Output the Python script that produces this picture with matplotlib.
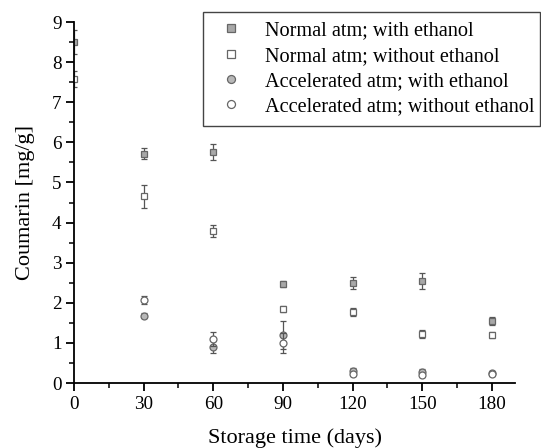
import matplotlib
matplotlib.use("Agg")
import matplotlib.pyplot as plt
from matplotlib.ticker import MultipleLocator

plt.rcParams['font.family'] = ['Liberation Serif', 'DejaVu Serif']

days = [0, 30, 60, 90, 120, 150, 180]
normal_with = [8.50, 5.72, 5.75, 2.47, 2.50, 2.55, 1.55]
normal_with_err = [0.30, 0.13, 0.20, 0.07, 0.15, 0.20, 0.10]
normal_without = [7.57, 4.65, 3.80, 1.85, 1.77, 1.22, 1.20]
normal_without_err = [0.20, 0.28, 0.15, 0.07, 0.10, 0.10, 0.07]
accel_with = [None, 1.68, 0.90, 1.20, 0.30, 0.28, 0.25]
accel_with_err = [None, 0.07, 0.15, 0.35, 0.07, 0.07, 0.05]
accel_without = [None, 2.07, 1.10, 1.00, 0.22, 0.20, 0.22]
accel_without_err = [None, 0.10, 0.18, 0.25, 0.05, 0.05, 0.05]

labels = ["Normal atm; with ethanol", "Normal atm; without ethanol",
          "Accelerated atm; with ethanol", "Accelerated atm; without ethanol"]

fig = plt.figure(figsize=(5.41, 4.48), dpi=100)
ax = fig.add_axes([74/541, 1-383/448, (515-74)/541, (383-22)/448])

def plot_series(y, e, marker, fc, label):
    xs = [d for d, v in zip(days, y) if v is not None]
    ys = [v for v in y if v is not None]
    es = [v for v in e if v is not None]
    ax.errorbar(xs, ys, yerr=es, fmt='none', ecolor='#555555', elinewidth=0.9,
                capsize=2.5, capthick=0.9, clip_on=True)
    ax.plot(xs, ys, linestyle='none', marker=marker, markersize=5, markerfacecolor=fc,
            markeredgecolor='#666666', markeredgewidth=0.9, label=label, clip_on=True)

plot_series(normal_with, normal_with_err, 's', '#a8a8a8', labels[0])
plot_series(normal_without, normal_without_err, 's', 'white', labels[1])
plot_series(accel_with, accel_with_err, 'o', '#b8b8b8', labels[2])
plot_series(accel_without, accel_without_err, 'o', 'white', labels[3])

ax.set_xlim(0, 190)
ax.set_ylim(0, 9)
ax.set_xticks([0, 30, 60, 90, 120, 150, 180])
ax.xaxis.set_minor_locator(MultipleLocator(15))
ax.yaxis.set_major_locator(MultipleLocator(1))
ax.yaxis.set_minor_locator(MultipleLocator(0.5))
for s in ['top', 'right']:
    ax.spines[s].set_visible(False)
for s in ['left', 'bottom']:
    ax.spines[s].set_linewidth(1.3)
ax.tick_params(which='major', direction='out', length=6, width=1.3, labelsize=13.8, pad=3)
ax.tick_params(which='minor', direction='out', length=3.5, width=1.1)

ax.set_xlabel("Storage time (days)", fontsize=16, labelpad=11)
ax.set_ylabel("Coumarin [mg/g]", fontsize=16, labelpad=12)

leg = fig.legend(loc='upper left', bbox_to_anchor=(203/541, 1-126/448, 337/541, 114/448),
                 mode='expand', borderaxespad=0, fontsize=14.6, markerscale=1.15,
                 frameon=True, fancybox=False, edgecolor='#444444', framealpha=1,
                 handletextpad=0.75, borderpad=0.46, labelspacing=0.3, handlelength=1.84)
leg.get_frame().set_linewidth(1.0)

fig.savefig("out.png", dpi=100)
